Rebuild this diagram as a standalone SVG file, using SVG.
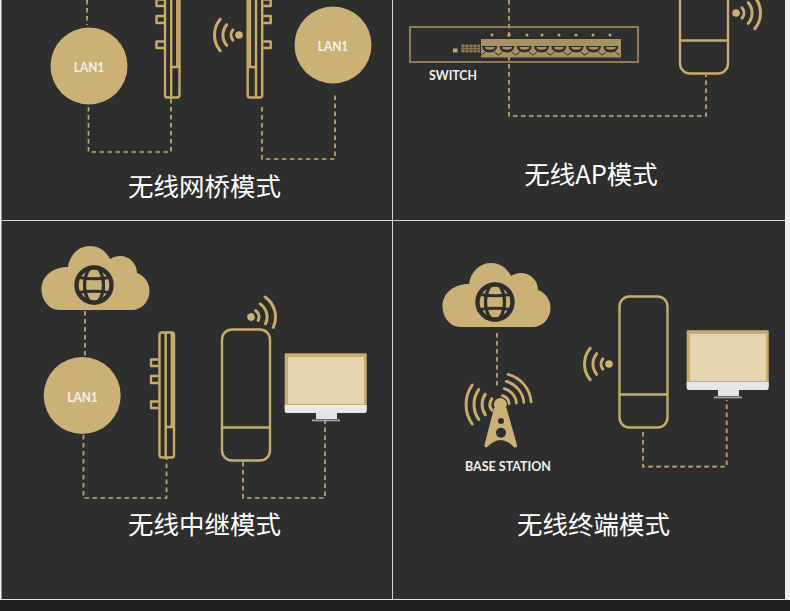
<svg xmlns="http://www.w3.org/2000/svg" xmlns:xlink="http://www.w3.org/1999/xlink" width="790" height="611" viewBox="0 0 790 611">
<style>
.lan{fill:#ccb176}
.t{font-family:"Noto Sans CJK SC","Noto Sans",sans-serif;font-size:25.5px;fill:#fff;text-anchor:middle}
.l{font-family:Lato,"Liberation Sans",sans-serif;font-weight:700;font-size:14px;fill:#f2f0ea;text-anchor:middle}
.d{fill:none;stroke:#c4a869;stroke-width:1.7;stroke-dasharray:4.5 3.5}
.o{fill:none;stroke:#c9ac6c;stroke-width:2.4;stroke-linejoin:round}
.a{fill:none;stroke:#c9ac6c;stroke-width:3;stroke-linecap:round}
</style>
<defs>
<g id="side">
<rect class="o" x="159.5" y="332.5" width="14.5" height="125" rx="2.5"/>
<path class="o" d="M165.7 332.5V457.5M171.8 332.5V427M165.7 427H174M158.5 359.5H151V366H158.5M158.5 376H151V383H158.5M158.5 401.5H151V408H158.5"/>
</g>
<g id="box">
<rect class="o" x="0" y="0" width="48" height="131" rx="10"/>
<path class="o" d="M0 98H48"/>
</g>
<g id="wifi">
<circle cx="0" cy="0" r="3.8" fill="#ccb176"/>
<path class="a" d="M6.100 -5.100A8 8 0 0 1 6.100 5.100M12.300 -10.300A16 16 0 0 1 12.300 10.300M18.800 -15.700A24.500 24.500 0 0 1 18.800 15.700"/>
</g>
<g id="cloud">
<path class="lan" d="M60 310C48 310 41.500 299 41.500 289C41.500 277 52 267 68 267C70 254 79 246 90 246C99 246 106 251 110 259C113 257 117 256 120 256C130 256 137 264 137 273C145 276 149.500 283 149.500 291C149.500 302 141 310 132 310Z"/>
<g fill="none" stroke="#2e2e2e">
<circle cx="94" cy="285" r="17.500" stroke-width="4.400"/>
<ellipse cx="94" cy="285" rx="9.500" ry="18" stroke-width="3.200"/>
<path stroke-width="3.200" d="M79 277.500Q94 280 109 277.500M79 292.500Q94 290 109 292.500"/>
</g>
</g>
<g id="monitor">
<rect x="284.700" y="353.300" width="82" height="56" rx="1" fill="#c9ac6c"/>
<rect x="288" y="357" width="76" height="47" fill="#e4d5ae"/>
<path d="M284.700 405H366.700V411Q366.700 413 364.700 413H286.700Q284.700 413 284.700 411Z" fill="#e8e8ea"/>
<path d="M316 413H337V419H316Z" fill="#e4e4e6"/>
<rect x="312" y="419.500" width="28" height="1.800" fill="#a5a5a5"/>
</g>
<g id="port">
<path d="M1 7H16.300Q15.500 13 8.700 13.500Q1.800 13 1 7Z" fill="#2e2e2e"/>
<path d="M4 9.500Q8.700 12 13.500 9.500V8H4Z" fill="#a8925f"/>
<path d="M0 16Q3 14.500 4.500 12.500M17.400 16Q14.500 14.500 13 12.500" fill="none" stroke="#2e2e2e" stroke-width="1"/>
</g>
</defs>

<rect width="790" height="611" fill="#2e2e2e"/>
<rect x="0" y="0" width="1.500" height="600" fill="#f4f4f4"/>
<rect x="785" y="0" width="5" height="600" fill="#f0f0f0"/>
<rect x="392" y="0" width="1" height="600" fill="#d2d2d2"/>
<rect x="1" y="220" width="784" height="1" fill="#d8d8d8"/>
<rect x="0" y="599" width="785" height="1" fill="#e4e4e4"/>
<rect x="0" y="600" width="790" height="11" fill="#221f20"/>

<g id="connectors">
<path class="d" d="M87 0V25"/>
<path class="d" d="M88.500 107V152H171V98"/>
<path class="d" d="M262 107V159H335V92"/>
<path class="d" d="M509 0V116H706V75"/>
<path class="d" d="M85 311V357"/>
<path class="d" d="M83.500 435V498H166.500V458"/>
<path class="d" d="M243 462V498H325V421"/>
<path class="d" d="M497 333V389"/>
<path class="d" d="M643 432V466.700H726.700V400"/>
</g>

<g id="panel1-lan-left"><circle class="lan" cx="89" cy="66" r="38.500"/><text class="l" x="89" y="72" textLength="30.500" lengthAdjust="spacingAndGlyphs">LAN1</text></g>
<g id="panel1-bridge-left"><use xlink:href="#side" href="#side" transform="translate(5.500 -360)"/></g>
<g id="panel1-wifi"><use xlink:href="#wifi" href="#wifi" transform="translate(239 35) scale(-1 1)"/></g>
<g id="panel1-bridge-right"><use xlink:href="#side" href="#side" transform="translate(421.700 -360) scale(-1 1)"/></g>
<g id="panel1-lan-right"><circle class="lan" cx="333" cy="45" r="38.500"/><text class="l" x="333" y="51" textLength="30.500" lengthAdjust="spacingAndGlyphs">LAN1</text></g>
<g id="panel1-title"><text class="t" x="204.500" y="196">无线网桥模式</text></g>

<g id="panel2-switch">
<rect x="410" y="27" width="228" height="35" fill="none" stroke="#8d7a50" stroke-width="2"/>
<rect x="481" y="39" width="140" height="18.500" fill="#a8925f"/>
<use xlink:href="#port" href="#port" transform="translate(481 39)"/>
<use xlink:href="#port" href="#port" transform="translate(498.300 39)"/>
<use xlink:href="#port" href="#port" transform="translate(515.600 39)"/>
<use xlink:href="#port" href="#port" transform="translate(532.900 39)"/>
<use xlink:href="#port" href="#port" transform="translate(550.200 39)"/>
<use xlink:href="#port" href="#port" transform="translate(567.500 39)"/>
<use xlink:href="#port" href="#port" transform="translate(584.800 39)"/>
<use xlink:href="#port" href="#port" transform="translate(602.100 39)"/>
<g fill="#c4a869">
<circle cx="492" cy="35" r="1.400"/><circle cx="509" cy="35" r="1.800"/><circle cx="527" cy="35" r="1.500"/><circle cx="542" cy="35" r="1.500"/><circle cx="559" cy="35" r="1.500"/><circle cx="576" cy="35" r="1.500"/><circle cx="593" cy="35" r="1.500"/><circle cx="610" cy="35" r="1.500"/>
<rect x="453" y="48.500" width="4.500" height="4"/>
</g>
<path d="M461 46H480M461 48.500H480M461 51H480M463 44V53M467 44V53M471 44V53M475 44V53M479 44V53" stroke="#8d7a50" stroke-width="1.300" fill="none"/>
<text class="l" x="453" y="80" textLength="48" lengthAdjust="spacingAndGlyphs">SWITCH</text>
</g>
<g id="panel2-ap"><use xlink:href="#box" href="#box" transform="translate(680 -57.500)"/></g>
<g id="panel2-wifi"><use xlink:href="#wifi" href="#wifi" transform="translate(736 13)"/></g>
<g id="panel2-title"><text class="t" x="591" y="184">无线AP模式</text></g>

<g id="panel3-cloud"><use xlink:href="#cloud" href="#cloud"/></g>
<g id="panel3-lan"><circle class="lan" cx="82.200" cy="395.500" r="38.500"/><text class="l" x="82.500" y="401.500" textLength="30.500" lengthAdjust="spacingAndGlyphs">LAN1</text></g>
<g id="panel3-bridge"><use xlink:href="#side" href="#side"/></g>
<g id="panel3-ap"><use xlink:href="#box" href="#box" transform="translate(222 329.500)"/></g>
<g id="panel3-wifi"><use xlink:href="#wifi" href="#wifi" transform="translate(251 317) rotate(-15)"/></g>
<g id="panel3-monitor"><use xlink:href="#monitor" href="#monitor"/></g>
<g id="panel3-title"><text class="t" x="204.500" y="534">无线中继模式</text></g>

<g id="panel4-cloud"><use xlink:href="#cloud" href="#cloud" transform="translate(401 17)"/></g>
<g id="panel4-tower">
<g class="lan">
<path d="M494 408H506.500L517 445Q517.500 447.500 514.500 447.500Q507 440 500.500 440Q494 440 486.500 447.500Q484 447.500 484.500 445Z"/>
<circle cx="500.300" cy="404.500" r="6.500"/>
</g>
<circle cx="501" cy="421" r="3" fill="#2e2e2e"/><circle cx="501" cy="432.700" r="5" fill="#2e2e2e"/>
<g transform="translate(500 404.500) scale(-1 1)"><path class="a" d="M8.200 -5.700A10 10 0 0 1 8.200 5.700M14.700 -10.300A18 18 0 0 1 14.700 10.300M21.300 -14.900A26 26 0 0 1 21.300 14.900M27.800 -19.500A34 34 0 0 1 27.800 19.500"/></g>
<g transform="translate(500 404.500) rotate(-40) scale(.92)"><path class="a" d="M8.200 -5.700A10 10 0 0 1 8.200 5.700M14.700 -10.300A18 18 0 0 1 14.700 10.300M21.300 -14.900A26 26 0 0 1 21.300 14.900M27.800 -19.500A34 34 0 0 1 27.800 19.500"/></g>
<text class="l" x="508" y="471" textLength="86" lengthAdjust="spacingAndGlyphs">BASE STATION</text>
</g>
<g id="panel4-cpe"><use xlink:href="#box" href="#box" transform="translate(619.500 296.500)"/></g>
<g id="panel4-wifi"><use xlink:href="#wifi" href="#wifi" transform="translate(609 364) scale(-1 1)"/></g>
<g id="panel4-monitor"><use xlink:href="#monitor" href="#monitor" transform="translate(402 -23)"/></g>
<g id="panel4-title"><text class="t" x="593.500" y="534">无线终端模式</text></g>
</svg>
